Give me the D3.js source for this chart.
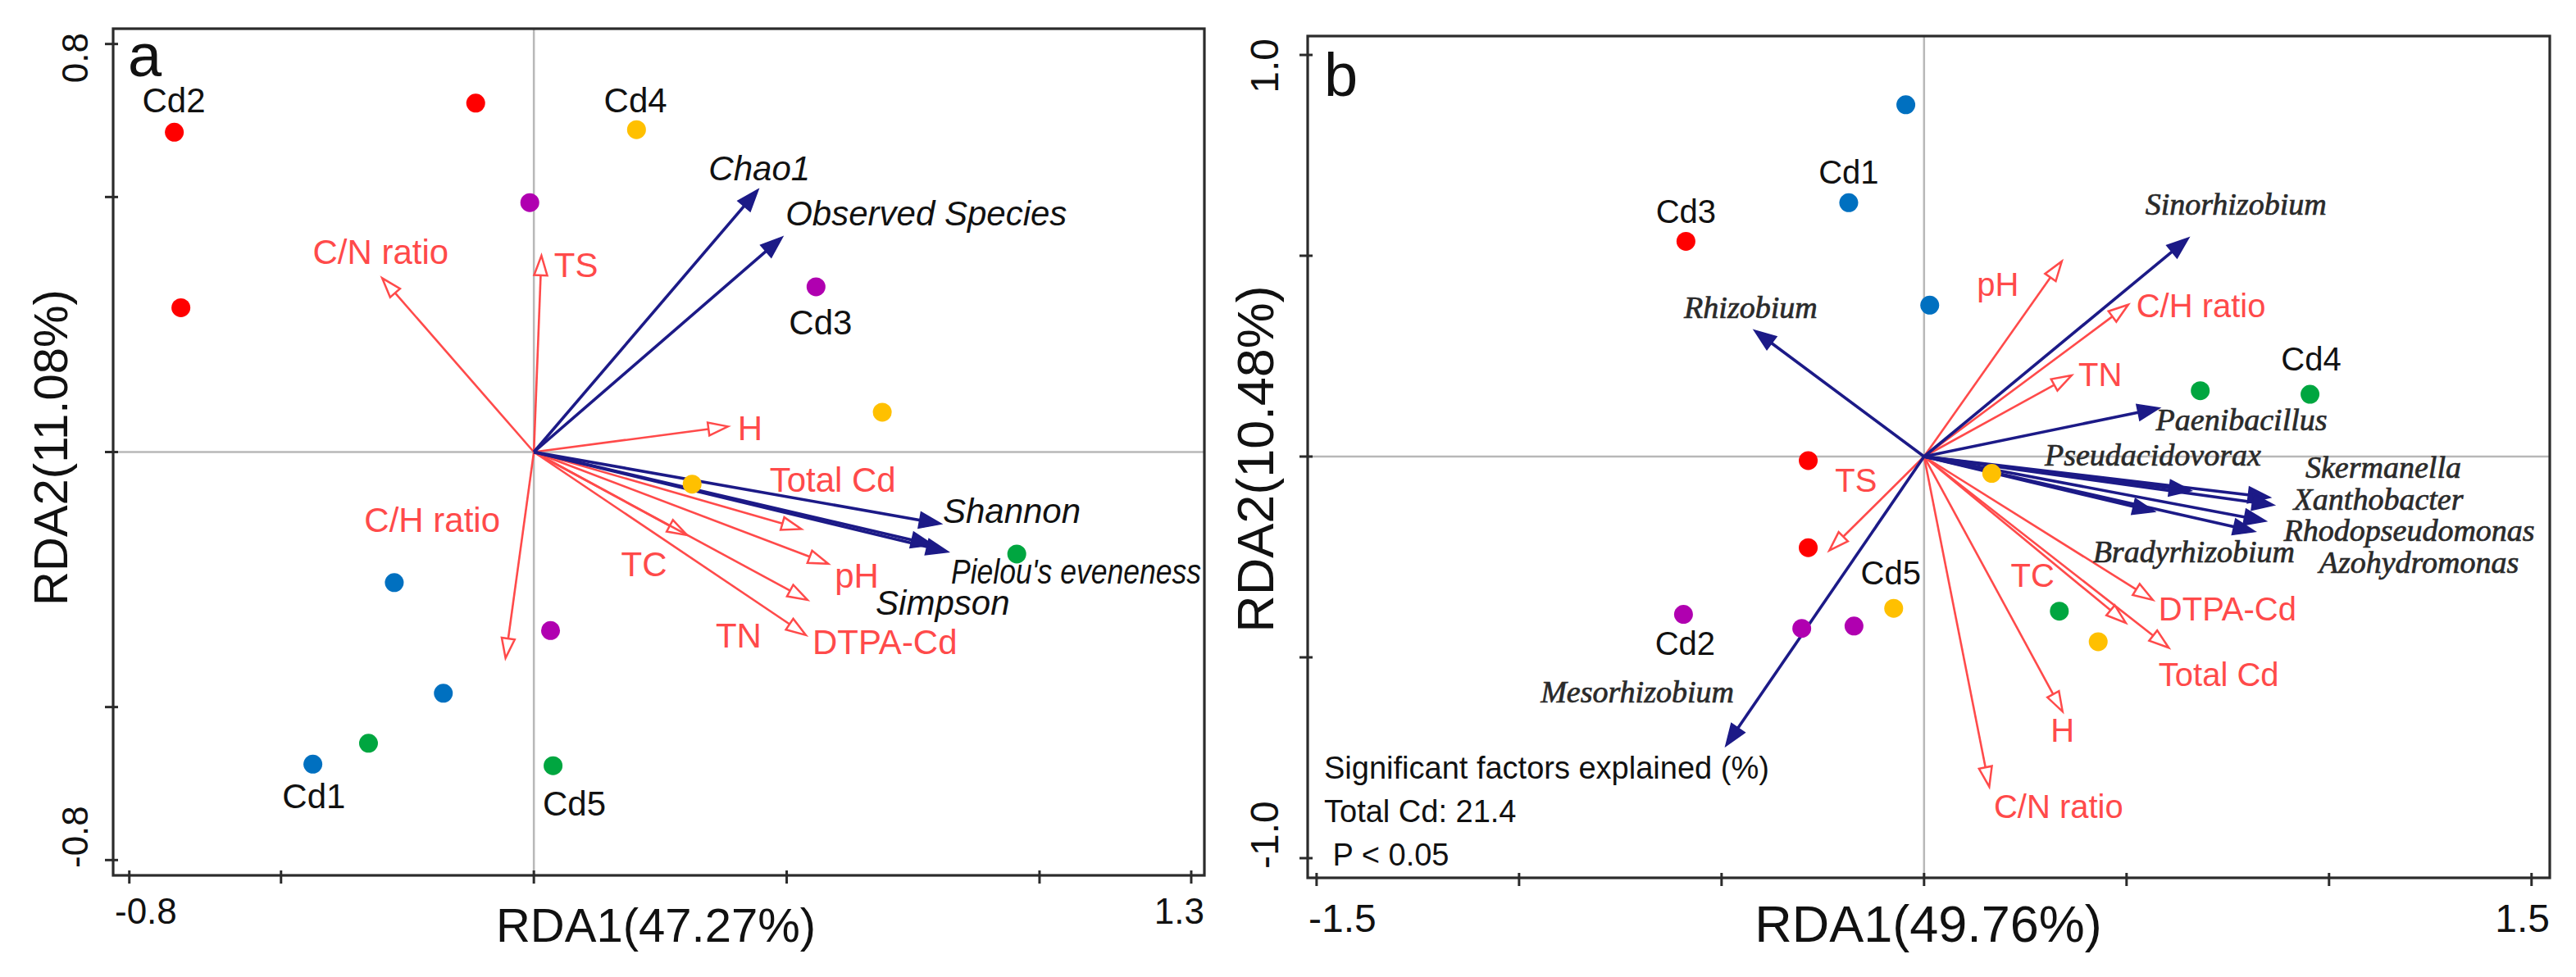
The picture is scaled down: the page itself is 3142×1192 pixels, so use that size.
<!DOCTYPE html>
<meta charset="utf-8" />
<script src="https://d3js.org/d3.v7.min.js"></script>
<style>
  body { margin: 0; background: #fff; }
  svg { display: block; }
</style>
<body>
<div id="chart"></div>
<script>
// ---------- panel a (RDA1 47.27%, RDA2 11.08%) ----------
var aGroups = ["Cd1", "Cd2", "Cd3", "Cd4", "Cd5"];
var aGroupColor = ["#0070c0", "#ff0000", "#b000b0", "#ffc000", "#00a640"];
var aSiteGroup = ["Cd2", "Cd2", "Cd2", "Cd4", "Cd4", "Cd4", "Cd3", "Cd3", "Cd3", "Cd1", "Cd1", "Cd1", "Cd5", "Cd5", "Cd5"];
var aSiteX = [-0.711, -0.115, -0.698, 0.203, 0.689, 0.313, -0.008, 0.558, 0.033, -0.276, -0.179, -0.437, -0.327, 0.038, 0.955];
var aSiteY = [0.627, 0.684, 0.283, 0.632, 0.078, -0.063, 0.489, 0.324, -0.350, -0.256, -0.473, -0.612, -0.571, -0.615, -0.200];
var aGroupLabX = [-0.435, -0.712, 0.567, 0.201, 0.080];
var aGroupLabY = [-0.699, 0.666, 0.230, 0.666, -0.713];

var aEnv = ["C/N ratio", "TS", "H", "Total Cd", "C/H ratio", "TC", "pH", "TN", "DTPA-Cd"];
var aEnvX = [-0.300, 0.015, 0.384, 0.529, -0.056, 0.303, 0.582, 0.541, 0.538];
var aEnvY = [0.341, 0.385, 0.050, -0.151, -0.404, -0.163, -0.219, -0.290, -0.359];
var aEnvLabX = [-0.303, 0.040, 0.403, 0.591, -0.201, 0.218, 0.595, 0.405, 0.551];
var aEnvLabY = [0.368, 0.343, 0.023, -0.078, -0.156, -0.244, -0.266, -0.383, -0.396];
var aEnvAnchor = ["middle", "start", "start", "middle", "middle", "middle", "start", "middle", "start"];

var aSpp = ["Chao1", "Observed Species", "Shannon", "Pielou's eveneness", "Simpson"];
var aSppX = [0.444, 0.492, 0.806, 0.820, 0.790];
var aSppY = [0.515, 0.422, -0.141, -0.196, -0.182];
var aSppLabX = [0.446, 0.776, 0.945, 0.825, 0.676];
var aSppLabY = [0.533, 0.444, -0.139, -0.258, -0.319];
var aSppAnchor = ["middle", "middle", "middle", "start", "start"];

var aXTicks = [-0.8, -0.5, 0, 0.5, 1, 1.3];
var aYTicks = [-0.8, -0.5, 0, 0.5, 0.8];
var aXLabels = ["-0.8", "1.3"];
var aYLabels = ["-0.8", "0.8"];

// ---------- panel b (RDA1 49.76%, RDA2 10.48%) ----------
var bGroups = ["Cd1", "Cd2", "Cd3", "Cd4", "Cd5"];
var bGroupColor = ["#0070c0", "#b000b0", "#ff0000", "#00a640", "#ffc000"];
var bSiteGroup = ["Cd1", "Cd1", "Cd1", "Cd3", "Cd3", "Cd3", "Cd4", "Cd4", "Cd4", "Cd5", "Cd5", "Cd5", "Cd2", "Cd2", "Cd2"];
var bSiteX = [-0.045, -0.186, 0.014, -0.588, -0.286, -0.286, 0.682, 0.953, 0.334, 0.167, -0.075, 0.430, -0.594, -0.302, -0.173];
var bSiteY = [0.876, 0.632, 0.377, 0.536, -0.010, -0.227, 0.164, 0.155, -0.385, -0.042, -0.378, -0.461, -0.393, -0.428, -0.422];
var bGroupLabX = [-0.186, -0.590, -0.588, 0.956, -0.082];
var bGroupLabY = [0.680, -0.494, 0.582, 0.215, -0.319];

var bEnv = ["pH", "C/H ratio", "TN", "TS", "TC", "DTPA-Cd", "Total Cd", "H", "C/N ratio"];
var bEnvX = [0.340, 0.504, 0.364, -0.234, 0.498, 0.565, 0.604, 0.342, 0.161];
var bEnvY = [0.486, 0.378, 0.202, -0.234, -0.414, -0.357, -0.476, -0.635, -0.822];
var bEnvLabX = [0.182, 0.524, 0.381, -0.168, 0.268, 0.579, 0.579, 0.342, 0.332];
var bEnvLabY = [0.401, 0.347, 0.176, -0.087, -0.324, -0.408, -0.571, -0.710, -0.900];
var bEnvAnchor = ["middle", "start", "start", "middle", "middle", "start", "start", "middle", "middle"];

var bSpp = ["Sinorhizobium", "Rhizobium", "Paenibacillus", "Pseudacidovorax", "Skermanella", "Xanthobacter", "Rhodopseudomonas", "Bradyrhizobium", "Azohydromonas", "Mesorhizobium"];
var bSppX = [0.654, -0.420, 0.582, 0.660, 0.855, 0.865, 0.845, 0.570, 0.818, -0.490];
var bSppY = [0.545, 0.315, 0.121, -0.085, -0.102, -0.121, -0.161, -0.137, -0.187, -0.721];
var bSppLabX = [0.770, -0.428, 0.784, 0.565, 1.134, 1.122, 1.198, 0.666, 1.222, -0.708];
var bSppLabY = [0.602, 0.344, 0.065, -0.022, -0.054, -0.132, -0.210, -0.263, -0.290, -0.613];

var bXTicks = [-1.5, -1, -0.5, 0, 0.5, 1, 1.5];
var bYTicks = [-1, -0.5, 0, 0.5, 1];
var bXLabels = ["-1.5", "1.5"];
var bYLabels = ["-1.0", "1.0"];
var bNote = ["Significant factors explained (%)", "Total Cd: 21.4", " P < 0.05"];

var W = 3142, H = 1192;
var envColor = "#ff4a4a", sppColor = "#1c1a87";

var svg = d3.select("#chart").append("svg").attr("width", W).attr("height", H);

function drawPanel(p) {
  var x = d3.scaleLinear().domain(p.xlim).range([p.box[0], p.box[2]]);
  var y = d3.scaleLinear().domain(p.ylim).range([p.box[3], p.box[1]]);
  var g = svg.append("g");
  var fs = p.fs;

  // zero lines
  g.append("line").attr("x1", x(0)).attr("x2", x(0)).attr("y1", y(p.ylim[1])).attr("y2", y(p.ylim[0]))
    .attr("stroke", "#b8b8b8").attr("stroke-width", 2.5);
  g.append("line").attr("x1", x(p.xlim[0])).attr("x2", x(p.xlim[1])).attr("y1", y(0)).attr("y2", y(0))
    .attr("stroke", "#b8b8b8").attr("stroke-width", 2.5);

  // arrows: open heads for env, filled for taxa / indices
  function arrow(gg, ex, ey, color, width, len, hw, open) {
    var x0 = x(0), y0 = y(0), x1 = x(ex), y1 = y(ey);
    var a = Math.atan2(y1 - y0, x1 - x0);
    var bx = x1 - len * Math.cos(a), by = y1 - len * Math.sin(a);
    gg.append("line").attr("x1", x0).attr("y1", y0)
      .attr("x2", open ? bx : x1 - 6 * Math.cos(a)).attr("y2", open ? by : y1 - 6 * Math.sin(a))
      .attr("stroke", color).attr("stroke-width", width);
    var pts = [[x1, y1],
      [bx + hw * Math.sin(a), by - hw * Math.cos(a)],
      [bx - hw * Math.sin(a), by + hw * Math.cos(a)]];
    gg.append("polygon").attr("points", pts.map(function (d) { return d.join(","); }).join(" "))
      .attr("fill", open ? "none" : color).attr("stroke", color).attr("stroke-width", open ? 2.5 : 1.5)
      .attr("stroke-linejoin", "miter");
  }

  var ge = g.append("g");
  p.env.forEach(function (n, i) { arrow(ge, p.envX[i], p.envY[i], envColor, 2.6, 24, 8, true); });
  var gs = g.append("g");
  p.spp.forEach(function (n, i) { arrow(gs, p.sppX[i], p.sppY[i], sppColor, 3.6, 27, 10, false); });

  // sites
  g.append("g").selectAll("circle").data(p.siteGroup).join("circle")
    .attr("cx", function (d, i) { return x(p.siteX[i]); })
    .attr("cy", function (d, i) { return y(p.siteY[i]); })
    .attr("r", 11.5)
    .attr("fill", function (d) { return p.groupColor[p.groups.indexOf(d)]; });

  // group labels
  g.append("g").selectAll("text").data(p.groups).join("text")
    .attr("x", function (d, i) { return x(p.groupLabX[i]); })
    .attr("y", function (d, i) { return y(p.groupLabY[i]); })
    .attr("text-anchor", "middle").attr("font-family", "Liberation Sans, Arial, sans-serif")
    .attr("font-size", fs).attr("fill", "#111").text(function (d) { return d; });

  // env labels
  g.append("g").selectAll("text").data(p.env).join("text")
    .attr("x", function (d, i) { return x(p.envLabX[i]); })
    .attr("y", function (d, i) { return y(p.envLabY[i]); })
    .attr("text-anchor", function (d, i) { return p.envAnchor[i]; })
    .attr("font-family", "Liberation Sans, Arial, sans-serif")
    .attr("font-size", fs).attr("fill", envColor).text(function (d) { return d; });

  // species labels
  g.append("g").selectAll("text").data(p.spp).join("text")
    .attr("x", function (d, i) { return x(p.sppLabX[i]); })
    .attr("y", function (d, i) { return y(p.sppLabY[i]); })
    .attr("text-anchor", function (d, i) { return p.sppAnchor ? p.sppAnchor[i] : "middle"; })
    .attr("font-family", p.sppFont).attr("font-style", "italic")
    .attr("font-size", p.sppFs).attr("fill", p.sppFill)
    .attr("stroke", p.sppStroke).attr("stroke-width", p.sppStroke === "none" ? 0 : 0.7)
    .text(function (d) { return d; })
    .each(function () {
      // squeeze a label that would run past the frame, as in the original
      var bb = this.getBBox();
      if (bb.x + bb.width > p.box[2] - 4) {
        d3.select(this).attr("textLength", p.box[2] - 4 - bb.x).attr("lengthAdjust", "spacingAndGlyphs");
      }
    });

  // frame
  g.append("rect").attr("x", p.box[0]).attr("y", p.box[1])
    .attr("width", p.box[2] - p.box[0]).attr("height", p.box[3] - p.box[1])
    .attr("fill", "none").attr("stroke", "#2b2b2b").attr("stroke-width", 3.2);

  // ticks
  g.append("g").selectAll("line").data(p.xTicks).join("line")
    .attr("x1", function (d) { return x(d); }).attr("x2", function (d) { return x(d); })
    .attr("y1", p.box[3] - 6).attr("y2", p.box[3] + 10)
    .attr("stroke", "#2b2b2b").attr("stroke-width", 3);
  g.append("g").selectAll("line").data(p.yTicks).join("line")
    .attr("y1", function (d) { return y(d); }).attr("y2", function (d) { return y(d); })
    .attr("x1", p.box[0] - 10).attr("x2", p.box[0] + 6)
    .attr("stroke", "#2b2b2b").attr("stroke-width", 3);

  // tick labels (only the outermost values, kept inside the frame span)
  var tf = "Liberation Sans, Arial, sans-serif";
  g.append("text").attr("x", p.box[0] + p.xLabInset[0]).attr("y", p.xLabY)
    .attr("text-anchor", "start").attr("font-family", tf).attr("font-size", p.tickFs).attr("fill", "#111")
    .text(p.xLabels[0]);
  g.append("text").attr("x", p.box[2] - p.xLabInset[1]).attr("y", p.xLabY)
    .attr("text-anchor", "end").attr("font-family", tf).attr("font-size", p.tickFs).attr("fill", "#111")
    .text(p.xLabels[1]);
  g.append("text").attr("transform", "translate(" + p.yLabX + "," + (p.box[3] - p.yLabInset[0]) + ") rotate(-90)")
    .attr("text-anchor", "start").attr("font-family", tf).attr("font-size", p.tickFs).attr("fill", "#111")
    .text(p.yLabels[0]);
  g.append("text").attr("transform", "translate(" + p.yLabX + "," + (p.box[1] + p.yLabInset[1]) + ") rotate(-90)")
    .attr("text-anchor", "end").attr("font-family", tf).attr("font-size", p.tickFs).attr("fill", "#111")
    .text(p.yLabels[1]);

  // axis titles
  g.append("text").attr("x", p.xTitlePos[0]).attr("y", p.xTitlePos[1])
    .attr("text-anchor", "middle").attr("font-family", tf).attr("font-size", p.titleFs).attr("fill", "#111")
    .text(p.xTitle);
  g.append("text").attr("transform", "translate(" + p.yTitlePos[0] + "," + p.yTitlePos[1] + ") rotate(-90)")
    .attr("text-anchor", "middle").attr("font-family", tf).attr("font-size", p.titleFs).attr("fill", "#111")
    .text(p.yTitle);

  // panel letter
  g.append("text").attr("x", p.letterPos[0]).attr("y", p.letterPos[1])
    .attr("font-family", tf).attr("font-size", 74).attr("fill", "#111").text(p.letter);

  // note
  if (p.note) {
    g.append("g").selectAll("text").data(p.note).join("text")
      .attr("x", p.box[0] + 20).attr("y", function (d, i) { return p.notePos + i * 53; })
      .attr("font-family", tf).attr("font-size", 38).attr("fill", "#111")
      .attr("xml:space", "preserve").style("white-space", "pre")
      .text(function (d) { return d; });
  }
}

drawPanel({
  box: [138, 35, 1469, 1068], xlim: [-0.832, 1.326], ylim: [-0.83, 0.83],
  groups: aGroups, groupColor: aGroupColor, siteGroup: aSiteGroup, siteX: aSiteX, siteY: aSiteY,
  groupLabX: aGroupLabX, groupLabY: aGroupLabY,
  env: aEnv, envX: aEnvX, envY: aEnvY, envLabX: aEnvLabX, envLabY: aEnvLabY, envAnchor: aEnvAnchor,
  spp: aSpp, sppX: aSppX, sppY: aSppY, sppLabX: aSppLabX, sppLabY: aSppLabY, sppAnchor: aSppAnchor,
  sppFont: "Liberation Sans, Arial, sans-serif", sppFs: 42, sppFill: "#111", sppStroke: "none",
  fs: 42, tickFs: 44,
  xTicks: aXTicks, yTicks: aYTicks, xLabels: aXLabels, yLabels: aYLabels,
  xLabY: 1127, xLabInset: [2, 0], yLabX: 107, yLabInset: [9, 5],
  xTitle: "RDA1(47.27%)", yTitle: "RDA2(11.08%)", titleFs: 58,
  xTitlePos: [800, 1149], yTitlePos: [82, 546],
  letter: "a", letterPos: [156, 93]
});

drawPanel({
  box: [1595, 44, 3110, 1071], xlim: [-1.522, 1.545], ylim: [-1.049, 1.047],
  groups: bGroups, groupColor: bGroupColor, siteGroup: bSiteGroup, siteX: bSiteX, siteY: bSiteY,
  groupLabX: bGroupLabX, groupLabY: bGroupLabY,
  env: bEnv, envX: bEnvX, envY: bEnvY, envLabX: bEnvLabX, envLabY: bEnvLabY, envAnchor: bEnvAnchor,
  spp: bSpp, sppX: bSppX, sppY: bSppY, sppLabX: bSppLabX, sppLabY: bSppLabY,
  sppFont: "Liberation Serif, Times New Roman, serif", sppFs: 38, sppFill: "#2a2a2a", sppStroke: "#2a2a2a",
  fs: 40, tickFs: 48,
  xTicks: bXTicks, yTicks: bYTicks, xLabels: bXLabels, yLabels: bYLabels,
  xLabY: 1137, xLabInset: [1, 0], yLabX: 1559, yLabInset: [11, 3],
  xTitle: "RDA1(49.76%)", yTitle: "RDA2(10.48%)", titleFs: 63,
  xTitlePos: [2352, 1149], yTitlePos: [1553, 560],
  letter: "b", letterPos: [1615, 117],
  note: bNote, notePos: 950
});
</script>
</body>
